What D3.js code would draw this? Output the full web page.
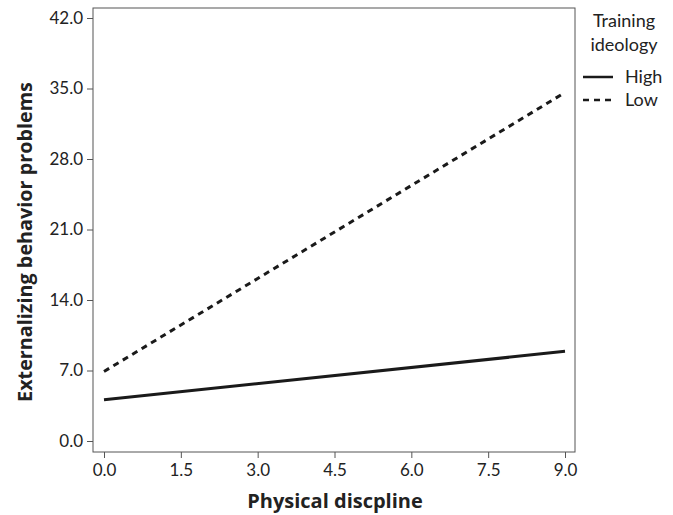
<!DOCTYPE html>
<html>
<head>
<meta charset="utf-8">
<script src="https://cdn.jsdelivr.net/npm/d3@7"></script>
<style>
  body { margin: 0; background: #fff; }
  text { font-family: Lato, "Open Sans", sans-serif; fill: #222; }
  .title { font-family: "Open Sans", sans-serif; font-weight: bold; }
</style>
</head>
<body>
<svg id="chart"></svg>
<script>
// data
var xTicks = [0, 1.5, 3, 4.5, 6, 7.5, 9];
var yTicks = [0, 7, 14, 21, 28, 35, 42];
var groups = ["High", "Low"];
var highLine = [[0, 4.1], [9, 8.9]];
var lowLine = [[0, 6.9], [9, 34.6]];

var screen = {width: 673, height: 515};
var frame = {left: 93, right: 575, top: 8, bottom: 452};

var svg = d3.select("#chart")
    .attr("width", screen.width)
    .attr("height", screen.height);

var xscale = d3.scaleLinear().domain([0, 9]).range([104, 565]);
var yscale = d3.scaleLinear().domain([0, 42]).range([441, 18]);

// plot frame
svg.append("rect")
    .attr("x", frame.left)
    .attr("y", frame.top)
    .attr("width", frame.right - frame.left)
    .attr("height", frame.bottom - frame.top)
    .attr("fill", "none")
    .attr("stroke", "#555")
    .attr("stroke-width", 1);

var yAxis = d3.axisLeft(yscale).tickValues(yTicks).tickFormat(d3.format(".1f")).tickSize(6).tickPadding(4);
var xAxis = d3.axisBottom(xscale).tickValues(xTicks).tickFormat(d3.format(".1f")).tickSize(6).tickPadding(6);

var gy = svg.append("g").attr("transform", "translate(" + frame.left + ",0)").call(yAxis);
var gx = svg.append("g").attr("transform", "translate(0," + frame.bottom + ")").call(xAxis);
[gy, gx].forEach(function(g) {
    g.attr("font-family", null).attr("font-size", null);
    g.select(".domain").remove();
    g.selectAll(".tick line").attr("stroke", "#555");
    g.selectAll(".tick text").style("font-size", "17px").attr("fill", "#222");
});

var line = d3.line()
    .x(function(d) { return xscale(d[0]); })
    .y(function(d) { return yscale(d[1]); });

svg.append("path")
    .attr("d", line(highLine))
    .attr("fill", "none")
    .attr("stroke", "#1a1a1a")
    .attr("stroke-width", 3);

svg.append("path")
    .attr("d", line(lowLine))
    .attr("fill", "none")
    .attr("stroke", "#1a1a1a")
    .attr("stroke-width", 3)
    .attr("stroke-dasharray", "6,5");

// axis titles
svg.append("text")
    .attr("class", "title")
    .attr("x", 335)
    .attr("y", 508)
    .attr("text-anchor", "middle")
    .style("font-size", "20px")
    .text("Physical discpline");

svg.append("text")
    .attr("class", "title")
    .attr("transform", "translate(32,242) rotate(-90)")
    .attr("text-anchor", "middle")
    .style("font-size", "19.8px")
    .text("Externalizing behavior problems");

// legend
var legend = svg.append("g");
legend.append("text").attr("x", 624).attr("y", 27).attr("text-anchor", "middle")
    .style("font-size", "18px").text("Training");
legend.append("text").attr("x", 624).attr("y", 51).attr("text-anchor", "middle")
    .style("font-size", "18px").text("ideology");

groups.forEach(function(g, i) {
    var y = 77 + i * 23;
    legend.append("line")
        .attr("x1", 583).attr("x2", 613)
        .attr("y1", y).attr("y2", y)
        .attr("stroke", "#1a1a1a")
        .attr("stroke-width", 2.5)
        .attr("stroke-dasharray", i == 1 ? "6,5" : null);
    legend.append("text")
        .attr("x", 625).attr("y", y + 6)
        .style("font-size", "18px")
        .text(g);
});
</script>
</body>
</html>
